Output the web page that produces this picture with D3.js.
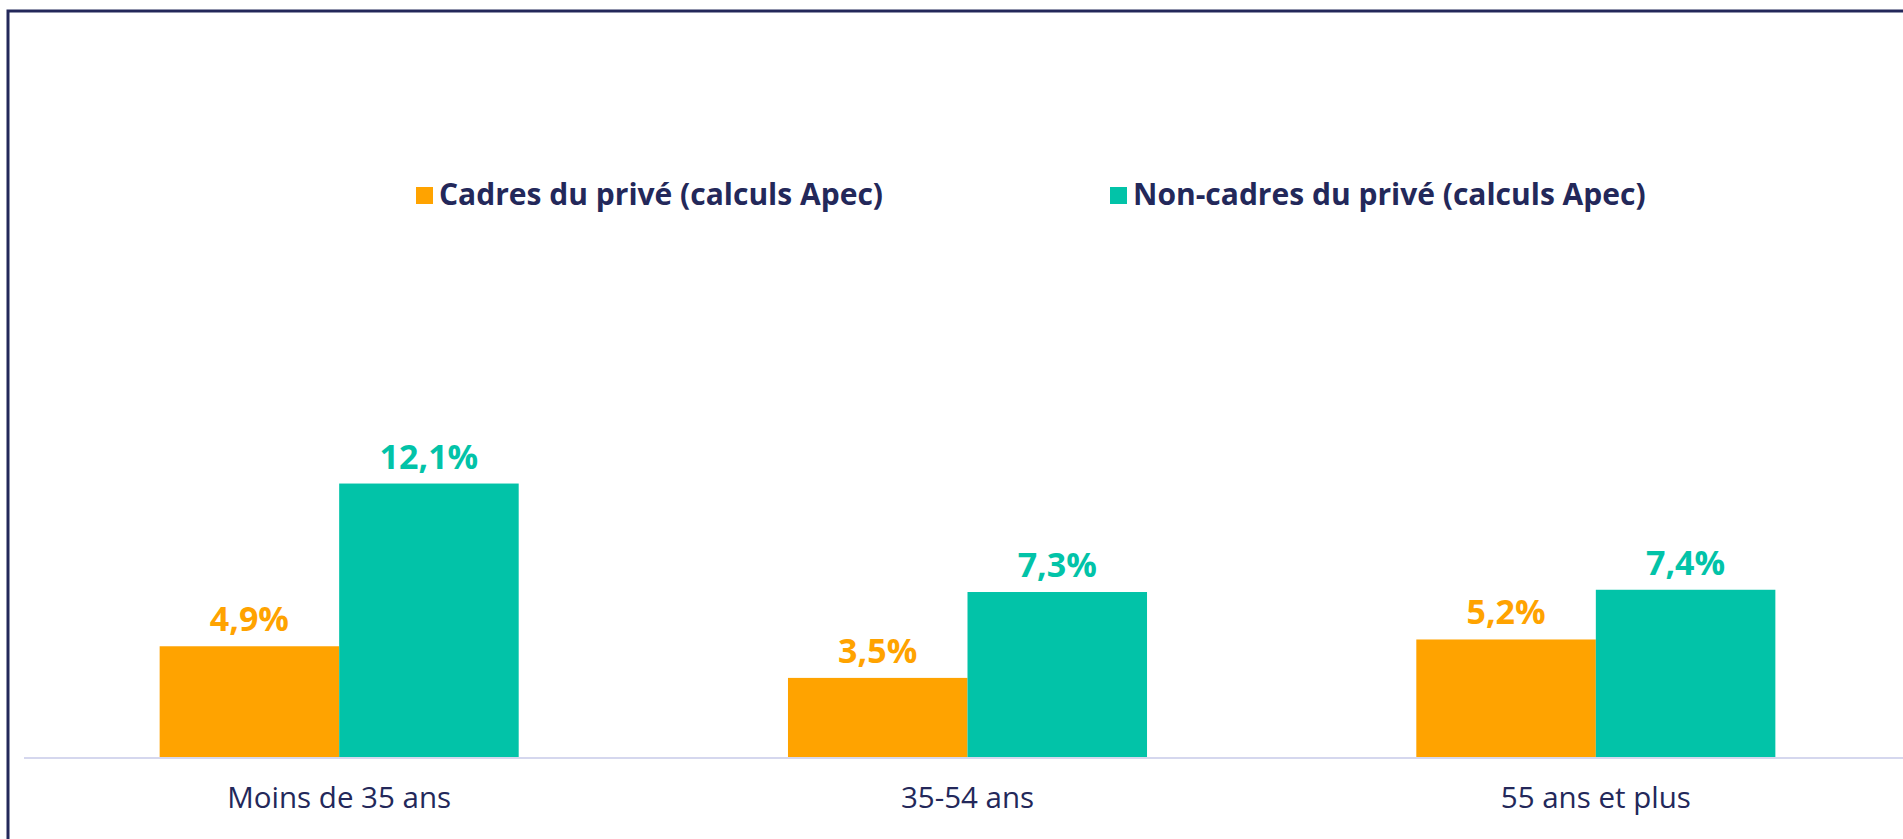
<!DOCTYPE html>
<html>
<head>
<meta charset="utf-8">
<script src="https://cdn.jsdelivr.net/npm/d3@7"></script>
<style>
  html, body { margin: 0; padding: 0; background: #fff; overflow: hidden; }
  svg { display: block; }
</style>
</head>
<body>
<svg id="chart"></svg>
<script>
// categories and series
const categories = ["Moins de 35 ans", "35-54 ans", "55 ans et plus"];
const seriesNames = ["Cadres du privé (calculs Apec)", "Non-cadres du privé (calculs Apec)"];
const cadres = [4.9, 3.5, 5.2];
const nonCadres = [12.1, 7.3, 7.4];
const colors = ["#FFA300", "#02C3A8"];

const width = 1903, height = 839;
const navy = "#23285A";

let svg = d3.select("#chart").attr("width", width).attr("height", height);

// outer frame (right/bottom edges run off the picture)
svg.append("rect")
    .attr("x", 8).attr("y", 11)
    .attr("width", width + 20).attr("height", height + 20)
    .attr("fill", "none")
    .attr("stroke", navy)
    .attr("stroke-width", 3);

let baseline = 757;

// x bands for the age groups
let x = d3.scaleBand().domain(categories).range([25, 1910]).paddingInner(0).paddingOuter(0);
let xSub = d3.scaleBand().domain([0, 1]).range([0, x.bandwidth()]).paddingInner(0).paddingOuter(0.75);

let y = d3.scaleLinear().domain([0, 14]).range([baseline, baseline - 14 * 22.6]);

let rows = categories.map((c, i) => ({ cat: c, values: [cadres[i], nonCadres[i]] }));

let groups = svg.append("g").selectAll("g")
    .data(rows)
    .join("g")
    .attr("transform", d => `translate(${x(d.cat)},0)`);

groups.selectAll("rect")
    .data(d => d.values.map((v, k) => ({ v, k })))
    .join("rect")
    .attr("x", d => xSub(d.k))
    .attr("y", d => y(d.v))
    .attr("width", xSub.bandwidth())
    .attr("height", d => y(0) - y(d.v))
    .attr("fill", d => colors[d.k]);

groups.selectAll("text.val")
    .data(d => d.values.map((v, k) => ({ v, k })))
    .join("text")
    .attr("class", "val")
    .attr("x", d => xSub(d.k) + xSub.bandwidth() / 2)
    .attr("y", d => y(d.v) - 15)
    .attr("text-anchor", "middle")
    .attr("font-family", "'Open Sans', sans-serif")
    .attr("font-weight", "bold")
    .attr("font-size", 34)
    .attr("fill", d => colors[d.k])
    .text(d => d3.format(".1f")(d.v).replace(".", ",") + "%");

// category axis
let xAxis = d3.axisBottom(x).tickSize(0).tickPadding(30);
let axisG = svg.append("g")
    .attr("transform", `translate(0,${baseline})`)
    .call(xAxis);
axisG.select(".domain").remove();
axisG.selectAll(".tick text")
    .attr("font-family", "'Open Sans', sans-serif")
    .attr("font-size", 29.5)
    .attr("fill", navy);

svg.append("line")
    .attr("x1", 24).attr("x2", width)
    .attr("y1", baseline + 1).attr("y2", baseline + 1)
    .attr("stroke", "#D5D7EE")
    .attr("stroke-width", 2);

// legend
let legendX = [416, 1110];
let legend = svg.append("g").selectAll("g")
    .data(seriesNames)
    .join("g")
    .attr("transform", (d, i) => `translate(${legendX[i]},187)`);

legend.append("rect")
    .attr("width", 17).attr("height", 17)
    .attr("fill", (d, i) => colors[i]);

legend.append("text")
    .attr("x", 23).attr("y", 18)
    .attr("font-family", "'Open Sans', sans-serif")
    .attr("font-weight", "bold")
    .attr("font-size", 30)
    .attr("fill", navy)
    .text(d => d);
</script>
</body>
</html>
